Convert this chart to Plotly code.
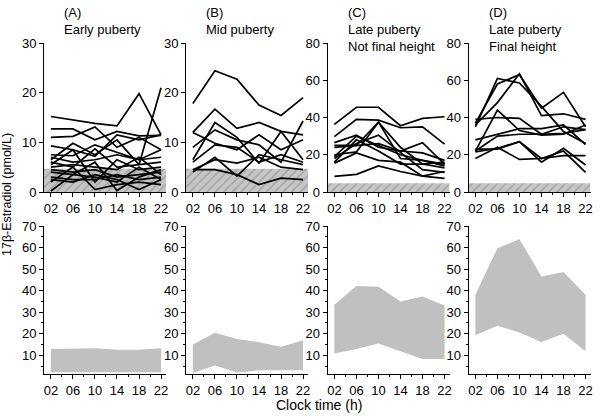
import plotly.graph_objects as go

# ---------------- data ----------------
hours = [2, 6, 10, 14, 18, 22]
hour_labels = ["02", "06", "10", "14", "18", "22"]

early = [
    [15.2, 14.5, 13.8, 13.3, 19.8, 11.5],
    [12.7, 12.7, 10.5, 12.2, 11.3, 11.4],
    [11.0, 11.2, 13.1, 9.0, 11.0, 8.5],
    [9.3, 8.5, 7.2, 11.5, 10.5, 11.5],
    [7.5, 7.3, 9.5, 8.0, 6.5, 7.0],
    [6.5, 9.8, 7.5, 10.5, 5.5, 21.0],
    [6.0, 5.0, 8.7, 5.0, 5.5, 6.0],
    [5.5, 8.5, 2.0, 6.5, 4.5, 5.0],
    [5.0, 5.5, 5.0, 4.5, 7.0, 3.5],
    [4.5, 4.0, 4.5, 3.0, 3.5, 4.0],
    [4.0, 3.5, 3.0, 2.0, 5.0, 2.5],
    [3.0, 2.5, 2.5, 3.5, 2.5, 3.0],
    [2.5, 2.0, 3.5, 2.5, 0.5, 2.5],
    [0.2, 3.5, 6.0, 0.3, 3.0, 4.5],
    [2.0, 5.0, 0.5, 1.5, 2.0, 1.5],
    [7.0, 6.0, 6.5, 7.5, 6.5, 8.5],
]
mid = [
    [17.8, 24.4, 22.7, 17.5, 15.4, 19.0],
    [12.0, 16.7, 12.8, 14.0, 12.2, 11.5],
    [6.5, 14.0, 11.0, 5.8, 12.2, 6.5],
    [9.0, 12.5, 10.5, 9.5, 6.0, 14.3],
    [12.0, 9.8, 8.5, 11.5, 8.5, 10.5],
    [6.0, 9.5, 9.0, 6.0, 7.5, 6.0],
    [4.0, 7.0, 3.2, 7.5, 6.5, 5.5],
    [4.5, 6.5, 5.8, 7.0, 5.0, 4.5],
    [4.5, 4.5, 3.5, 1.5, 2.8, 2.5],
]
late_nfh = [
    [36.3, 45.5, 45.5, 35.6, 39.5, 40.4],
    [29.7, 39.0, 38.6, 34.5, 35.0, 25.7],
    [8.4, 9.5, 14.0, 11.0, 8.5, 7.3],
    [26.5, 30.5, 24.0, 22.0, 26.5, 15.0],
    [25.0, 25.0, 37.5, 24.0, 15.0, 13.0],
    [20.0, 21.5, 37.5, 18.0, 17.0, 14.0],
    [19.0, 30.0, 25.0, 20.0, 17.0, 15.0],
    [16.0, 28.0, 22.0, 15.0, 15.0, 16.0],
    [18.0, 26.0, 30.5, 21.0, 12.0, 10.5],
    [15.5, 21.0, 17.0, 16.0, 8.5, 11.0],
    [24.0, 25.0, 26.0, 22.0, 21.0, 17.0],
]
late_fh = [
    [35.0, 61.0, 58.5, 46.0, 32.5, 26.0],
    [36.0, 48.0, 63.5, 41.0, 42.0, 39.0],
    [37.0, 58.0, 63.0, 45.0, 53.5, 35.0],
    [39.0, 40.0, 39.5, 31.0, 35.0, 33.5],
    [22.0, 44.0, 33.0, 30.5, 31.0, 36.0],
    [28.0, 31.0, 34.0, 34.0, 36.0, 25.5],
    [22.0, 30.0, 31.0, 31.0, 31.5, 33.5],
    [21.5, 23.5, 27.0, 16.0, 23.5, 14.5],
    [18.0, 24.0, 17.5, 18.0, 19.5, 19.5],
    [23.0, 23.0, 27.0, 18.0, 22.0, 10.5],
]

band_hi = [
    [12.9, 13.0, 13.3, 12.5, 12.6, 13.3],
    [15.0, 20.4, 17.6, 16.0, 13.9, 17.0],
    [33.5, 42.1, 41.8, 35.0, 37.3, 33.1],
    [38.1, 59.7, 63.9, 46.6, 48.7, 38.1],
]
band_lo = [
    [2.1, 2.1, 2.1, 2.1, 2.1, 2.1],
    [1.8, 5.2, 2.0, 3.0, 3.0, 3.0],
    [10.8, 12.9, 15.4, 11.9, 8.3, 8.3],
    [19.3, 23.7, 20.6, 16.2, 20.0, 11.9],
]

lod = 4.7
panel_titles = ["(A)<br>Early puberty", "(B)<br>Mid puberty",
                "(C)<br>Late puberty<br>Not final height",
                "(D)<br>Late puberty<br>Final height"]
top_ymax = [30, 30, 80, 80]
top_ytick = [10, 10, 20, 20]
y_title = "17β-Estradiol (pmol/L)"
x_title = "Clock time (h)"

# ---------------- layout ----------------
W, H = 600, 416
FONT = "Liberation Sans, Arial, sans-serif"
TICK = 13
x0s = [44, 186, 327.5, 468.5]
pw = 122
xr = [0.75, 22.9]
top_dom = [1 - 192 / H, 1 - 43 / H]
bot_dom = [1 - 374 / H, 1 - 226 / H]
bot_range = [1.3, 70]

fig = go.Figure()
layout = dict(
    width=W, height=H, margin=dict(l=0, r=0, t=0, b=0, autoexpand=False),
    paper_bgcolor="white", plot_bgcolor="white", showlegend=False,
    font=dict(family=FONT, size=12, color="black"),
)

def xaxis_def(i):
    return dict(
        domain=[x0s[i] / W, (x0s[i] + pw) / W], range=xr,
        tickmode="array", tickvals=hours, ticktext=hour_labels,
        showline=True, linecolor="black", linewidth=1, ticks="outside",
        ticklen=4, tickcolor="black", showgrid=False, zeroline=False,
        tickfont=dict(size=TICK, family=FONT), automargin=False,
        minor=dict(dtick=2, tick0=0, ticks="outside", ticklen=2, tickcolor="black"),
        fixedrange=True,
    )

annotations = []
for i in range(4):
    top = i + 1
    bot = i + 5
    tx, ty = ("x" if top == 1 else f"x{top}"), ("y" if top == 1 else f"y{top}")
    bx, by = f"x{bot}", f"y{bot}"

    # top panel: hatched LOD region
    fig.add_trace(go.Scatter(
        x=[xr[0], xr[1], xr[1], xr[0], xr[0]], y=[0, 0, lod, lod, 0],
        mode="lines", line=dict(width=0), fill="toself", fillcolor="#c4c4c4",
        fillpattern=dict(shape="/", bgcolor="#c6c6c6", fgcolor="#808080", size=6, solidity=0.25),
        xaxis=tx, yaxis=ty, hoverinfo="skip"))
    data = [early, mid, late_nfh, late_fh][i]
    for s in data:
        fig.add_trace(go.Scatter(x=hours, y=s, mode="lines",
                                 line=dict(color="black", width=1.7),
                                 xaxis=tx, yaxis=ty))
    # bottom panel: range band
    fig.add_trace(go.Scatter(
        x=hours + hours[::-1], y=band_hi[i] + band_lo[i][::-1],
        mode="lines", line=dict(width=0), fill="toself", fillcolor="#c0c0c0",
        xaxis=bx, yaxis=by, hoverinfo="skip"))

    xa = xaxis_def(i)
    xa["anchor"] = ty
    layout["xaxis" if top == 1 else f"xaxis{top}"] = xa
    xb = xaxis_def(i)
    xb["anchor"] = by
    layout[f"xaxis{bot}"] = xb

    layout["yaxis" if top == 1 else f"yaxis{top}"] = dict(
        domain=top_dom, range=[0, top_ymax[i]], anchor=tx,
        dtick=top_ytick[i], tick0=0, showline=True, linecolor="black", linewidth=1,
        ticks="outside", ticklen=4, tickcolor="black", showgrid=False, zeroline=False,
        tickfont=dict(size=TICK, family=FONT), fixedrange=True, automargin=False)
    layout[f"yaxis{bot}"] = dict(
        domain=bot_dom, range=bot_range, anchor=bx,
        tickvals=[10, 20, 30, 40, 50, 60, 70], showline=True, linecolor="black",
        linewidth=1, ticks="outside", ticklen=4, tickcolor="black", showgrid=False,
        zeroline=False, tickfont=dict(size=TICK, family=FONT), automargin=False,
        minor=dict(tickvals=[5, 15, 25, 35, 45, 55, 65], ticks="outside", ticklen=2,
                   tickcolor="black"),
        fixedrange=True)

    annotations.append(dict(
        text=panel_titles[i], xref="paper", yref="paper",
        x=(x0s[i] + 18) / W, y=1 - 3 / H, xanchor="left", yanchor="top",
        align="left", showarrow=False, font=dict(size=13, family=FONT)))

annotations.append(dict(text=y_title, xref="paper", yref="paper", x=7 / W, y=1 - 195 / H,
                        textangle=-90, showarrow=False, xanchor="center", yanchor="middle",
                        font=dict(size=12.5, family=FONT)))
annotations.append(dict(text=x_title, xref="paper", yref="paper", x=319 / W, y=1 - 405 / H,
                        showarrow=False, xanchor="center", yanchor="middle",
                        font=dict(size=14, family=FONT)))
layout["annotations"] = annotations
fig.update_layout(**layout)
fig.write_html("out.html", config={"displayModeBar": False},
               post_script="document.body.style.margin='0';document.body.style.overflow='hidden';")
